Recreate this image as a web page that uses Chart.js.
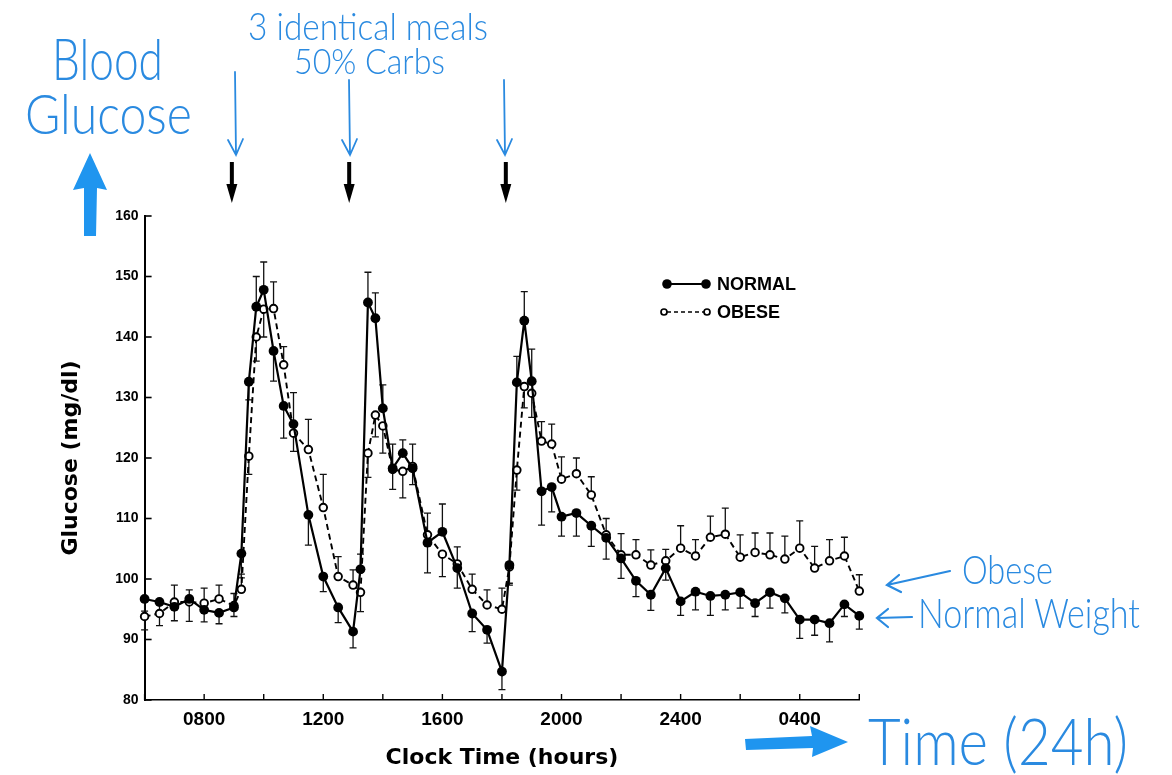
<!DOCTYPE html>
<html>
<head>
<meta charset="utf-8">
<script src="https://cdn.jsdelivr.net/npm/chart.js@4.4.1/dist/chart.umd.min.js"></script>
<style>
html,body{margin:0;padding:0;background:#fff;width:1172px;height:775px;overflow:hidden;}
#c{position:absolute;left:0;top:0;}
.note{position:absolute;color:#2a8ae0;font-family:'Lato',sans-serif;font-weight:300;white-space:nowrap;line-height:1;transform-origin:left top;}
</style>
</head>
<body>
<canvas id="c" width="1172" height="775"></canvas>
<div class="note" data-w="111" style="left:52px;top:28.6px;font-size:58px">Blood</div>
<div class="note" data-w="167" style="left:25px;top:85.3px;font-size:56px">Glucose</div>
<div class="note" data-w="240" style="left:248px;top:6.3px;font-size:38px">3 identical meals</div>
<div class="note" data-w="151" style="left:294px;top:42.1px;font-size:36px">50% Carbs</div>
<div class="note" data-w="91" style="left:962px;top:548.5px;font-size:40px">Obese</div>
<div class="note" data-w="222" style="left:918px;top:590.7px;font-size:42px">Normal Weight</div>
<div class="note" data-w="260" style="left:868px;top:706.5px;font-size:66px">Time (24h)</div>
<script>
// ---- data (hours since midnight of day 1; 24+ = next day) ----
const timeHours = [6,6.5,7,7.5,8,8.5,9,9.25,9.5,9.75,10,10.33,10.67,11,11.5,12,12.5,13,13.25,13.5,13.75,14,14.33,14.67,15,15.5,16,16.5,17,17.5,18,18.25,18.5,18.75,19,19.33,19.67,20,20.5,21,21.5,22,22.5,23,23.5,24,24.5,25,25.5,26,26.5,27,27.5,28,28.5,29,29.5,30];
const normalGlucose = [96.7,96.2,95.4,96.7,94.9,94.4,95.3,104.2,132.6,145.0,147.8,137.7,128.6,125.6,110.6,100.4,95.3,91.3,101.6,145.7,143.1,128.2,118.3,120.8,118.3,106.0,107.8,101.8,94.3,91.6,84.7,102.3,132.5,142.7,132.7,114.5,115.2,110.3,110.9,108.8,106.8,103.4,99.7,97.4,101.8,96.3,97.9,97.2,97.4,97.8,96.0,97.8,96.8,93.3,93.3,92.7,95.8,93.9];
const obeseGlucose = [93.8,94.3,96.2,96.2,96.0,96.7,95.6,98.3,120.3,140.0,144.6,144.7,135.4,124.1,121.4,111.8,100.4,99.0,97.8,120.8,127.1,125.3,118.1,117.8,118.6,107.3,104.1,102.5,98.3,95.7,95.0,102.0,118.0,131.8,130.7,122.8,122.3,116.5,117.4,113.9,107.3,104.0,104.0,102.3,103.0,105.1,103.8,106.9,107.4,103.6,104.4,104.0,103.3,105.1,101.8,103.0,103.8,98.0];
// error bars (SEM); sign tells on which side the bar is drawn (+ above, - below)
const normalSEM = [-2.0,-2.0,-2.3,-3.7,-2.0,-1.8,-1.5,-4.0,-3.0,5.0,4.6,-5.0,-5.3,-4.5,-5.0,-2.5,-2.5,-2.7,2.5,5.0,4.2,3.9,4.0,2.2,4.0,-5.0,4.6,3.5,-3.0,-2.2,-3.0,-3.0,4.3,4.8,5.3,-5.6,-4.1,-3.2,-3.8,-3.4,-3.5,-3.3,-2.6,-2.6,-2.0,-2.3,-3.0,-3.2,-2.5,-2.6,-2.2,-2.6,-2.4,-3.1,-2.6,-3.1,-2.0,-2.2];
const obeseSEM = [-2.2,-2.0,2.8,2.0,2.5,2.3,2.0,2.5,-3.0,-4.0,-4.6,4.4,3.0,6.7,5.0,5.5,3.3,2.5,-3.2,-4.0,-3.6,-4.5,-3.3,-4.4,-3.0,3.6,-3.7,-4.0,2.5,2.5,3.5,-3.0,-3.3,-3.5,-4.0,3.2,3.3,3.7,2.6,3.0,2.7,3.5,2.5,2.5,1.9,3.7,2.7,3.5,4.3,3.7,3.2,3.6,3.8,4.5,3.6,3.5,3.1,2.7];
const mealTimes = [8.93, 12.87, 18.13];
const xTickValues = [8, 12, 16, 20, 24, 28];
const xTickLabels = ['0800', '1200', '1600', '2000', '2400', '0400'];
const seriesNames = ['NORMAL', 'OBESE'];

const overlay = {
  id: 'overlay',
  beforeDatasetsDraw(chart) {
    const {ctx, scales: {x, y}} = chart;
    ctx.save();
    ctx.strokeStyle = '#111';
    ctx.lineWidth = 1.3;
    [[normalGlucose, normalSEM], [obeseGlucose, obeseSEM]].forEach(([vals, errs]) => {
      vals.forEach((v, i) => {
        const px = x.getPixelForValue(timeHours[i]);
        const p0 = y.getPixelForValue(v), p1 = y.getPixelForValue(v + errs[i]);
        ctx.beginPath();
        ctx.moveTo(px, p0); ctx.lineTo(px, p1);
        ctx.moveTo(px - 3.5, p1); ctx.lineTo(px + 3.5, p1);
        ctx.stroke();
      });
    });
    ctx.restore();
  },
  afterDraw(chart) {
    const {ctx, chartArea: ca, scales: {x, y}} = chart;
    ctx.save();
    // inward ticks
    ctx.strokeStyle = '#000';
    ctx.lineWidth = 1.6;
    y.ticks.forEach(t => {
      const py = y.getPixelForValue(t.value);
      ctx.beginPath(); ctx.moveTo(ca.left, py); ctx.lineTo(ca.left + 7, py); ctx.stroke();
    });
    ctx.lineWidth = 1.4;
    x.ticks.forEach(t => {
      const px = x.getPixelForValue(t.value);
      ctx.beginPath(); ctx.moveTo(px, ca.bottom); ctx.lineTo(px, ca.bottom - 6); ctx.stroke();
    });
    // meal arrows (black)
    ctx.fillStyle = '#000';
    mealTimes.forEach(t => {
      const px = x.getPixelForValue(t);
      ctx.fillRect(px - 2, ca.top - 54, 4, 26);
      ctx.beginPath();
      ctx.moveTo(px - 5.5, ca.top - 32); ctx.lineTo(px + 5.5, ca.top - 32); ctx.lineTo(px, ca.top - 13);
      ctx.closePath(); ctx.fill();
    });
    // legend
    ctx.font = 'bold 18px "Liberation Sans"';
    ctx.textBaseline = 'middle';
    ctx.textAlign = 'left';
    ctx.lineWidth = 2.2;
    ctx.beginPath(); ctx.moveTo(667, 284); ctx.lineTo(706, 284); ctx.stroke();
    [667, 706].forEach(cx => { ctx.beginPath(); ctx.arc(cx, 284, 4.8, 0, Math.PI * 2); ctx.fill(); });
    ctx.fillText(seriesNames[0], 717, 285);
    ctx.setLineDash([4, 3]);
    ctx.lineWidth = 1.7;
    ctx.beginPath(); ctx.moveTo(667, 312); ctx.lineTo(704, 312); ctx.stroke();
    ctx.setLineDash([]);
    [664, 707].forEach(cx => { ctx.beginPath(); ctx.arc(cx, 312, 3, 0, Math.PI * 2); ctx.fillStyle = '#fff'; ctx.fill(); ctx.stroke(); });
    ctx.fillStyle = '#000';
    ctx.fillText(seriesNames[1], 717, 313);

    // blue annotation arrows
    const blue = '#2a8ae0';
    ctx.strokeStyle = blue;
    ctx.lineWidth = 1.8;
    ctx.lineCap = 'round';
    const blueX = [236, 350, 505];
    blueX.forEach((bx, k) => {
      const top = k === 0 ? 72 : 80;
      ctx.beginPath();
      ctx.moveTo(bx - 1, top); ctx.lineTo(bx, 155);
      ctx.moveTo(bx - 8, 140); ctx.lineTo(bx, 155); ctx.lineTo(bx + 7, 139);
      ctx.stroke();
    });
    ctx.lineWidth = 2.2;
    ctx.beginPath();
    ctx.moveTo(950, 571); ctx.lineTo(887, 585);
    ctx.moveTo(899, 575); ctx.lineTo(887, 585); ctx.lineTo(901, 592);
    ctx.stroke();
    ctx.beginPath();
    ctx.moveTo(912, 617); ctx.lineTo(877, 618);
    ctx.moveTo(888, 609); ctx.lineTo(877, 618); ctx.lineTo(888, 627);
    ctx.stroke();
    // thick arrows
    ctx.fillStyle = '#1f95ef';
    ctx.beginPath();
    ctx.moveTo(84, 236); ctx.lineTo(84, 188); ctx.lineTo(73, 190); ctx.lineTo(90, 153);
    ctx.lineTo(107, 190); ctx.lineTo(97, 188); ctx.lineTo(96, 236); ctx.closePath(); ctx.fill();
    ctx.beginPath();
    ctx.moveTo(745, 739); ctx.lineTo(812, 736); ctx.lineTo(810, 726); ctx.lineTo(848, 742);
    ctx.lineTo(812, 757); ctx.lineTo(813, 748); ctx.lineTo(746, 750); ctx.closePath(); ctx.fill();
    ctx.restore();
  }
};

const bold = (size, family) => ({family: family || 'Liberation Sans', size: size, weight: 'bold'});

new Chart(document.getElementById('c'), {
  type: 'line',
  data: {
    datasets: [
      {label: seriesNames[0], data: timeHours.map((t, i) => ({x: t, y: normalGlucose[i]})),
       borderColor: '#000', backgroundColor: '#000', borderWidth: 2.2, pointRadius: 4.9,
       pointBackgroundColor: '#000', pointBorderColor: '#000', pointBorderWidth: 0, order: 1, clip: false, tension: 0},
      {label: seriesNames[1], data: timeHours.map((t, i) => ({x: t, y: obeseGlucose[i]})),
       borderColor: '#000', backgroundColor: '#fff', borderWidth: 1.9, borderDash: [6, 4], pointRadius: 3.8,
       pointBackgroundColor: '#fff', pointBorderColor: '#000', pointBorderWidth: 1.9, order: 2, clip: false, tension: 0}
    ]
  },
  options: {
    responsive: false,
    devicePixelRatio: 1,
    animation: false,
    layout: {padding: {left: 54, top: 216, right: 312.7, bottom: 0}},
    plugins: {legend: {display: false}, tooltip: {enabled: false}},
    scales: {
      x: {
        type: 'linear', min: 6, max: 30,
        afterFit(s) { s.height = 75; },
        ticks: {stepSize: 2, autoSkip: false, maxRotation: 0, padding: 8, color: '#000', font: bold(19),
                callback(v) { const i = xTickValues.indexOf(v); return i < 0 ? '' : xTickLabels[i]; }},
        grid: {display: true, drawOnChartArea: false, drawTicks: false},
        border: {display: true, color: '#000', width: 1.5},
        title: {display: true, text: 'Clock Time (hours)', color: '#000', font: bold(22, 'DejaVu Sans'), padding: {top: 4, bottom: 4}}
      },
      y: {
        min: 80, max: 160,
        afterFit(s) { s.width = 144.6 - 54; },
        ticks: {stepSize: 10, padding: 6, color: '#000', font: bold(14)},
        grid: {display: true, drawOnChartArea: false, drawTicks: false},
        border: {display: true, color: '#000', width: 2},
        title: {display: true, text: 'Glucose (mg/dl)', color: '#000', font: bold(22, 'DejaVu Sans'), padding: {top: 4, bottom: 4}}
      }
    }
  },
  plugins: [overlay]
});

function fitNotes() {
  document.querySelectorAll('.note').forEach(el => {
    el.style.transform = 'none';
    const w = el.getBoundingClientRect().width;
    el.style.transform = 'scaleX(' + (Number(el.dataset.w) / w) + ')';
  });
}
fitNotes();
if (document.fonts && document.fonts.ready) document.fonts.ready.then(fitNotes);
</script>
</body>
</html>
